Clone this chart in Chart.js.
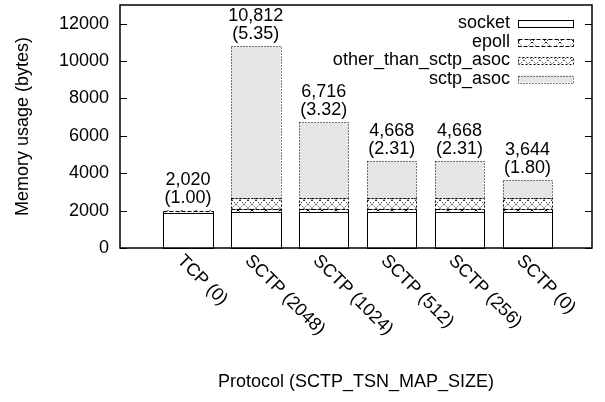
<!DOCTYPE html>
<html lang="en">
<head>
<meta charset="UTF-8">
<title>Memory usage per protocol</title>
<script src="https://cdn.jsdelivr.net/npm/chart.js"></script>
<style>
  body { margin: 0; background: #fff; }
  canvas { display: block; }
</style>
</head>
<body>
<canvas id="memChart" width="605" height="402"></canvas>
<script>
// x categories
const protocols = ["TCP (0)", "SCTP (2048)", "SCTP (1024)", "SCTP (512)", "SCTP (256)", "SCTP (0)"];
// stacked memory components, bytes
const socketBytes = [1860, 1900, 1900, 1900, 1900, 1900];
const epollBytes = [140, 200, 200, 200, 200, 200];
const otherBytes = [20, 560, 560, 560, 560, 560];
const sctpAsocBytes = [0, 8152, 4056, 2008, 2008, 984];
const seriesNames = ["socket", "epoll", "other_than_sctp_asoc", "sctp_asoc"];
const yTicks = [0, 2000, 4000, 6000, 8000, 10000, 12000];

const FONT = "'Liberation Sans', Arial, sans-serif";
const FSIZE = 18;

const totals = protocols.map((_, i) => socketBytes[i] + epollBytes[i] + otherBytes[i] + sctpAsocBytes[i]);

// small tiled fills, a bit like gnuplot's fill patterns
function makePattern(w, h, draw) {
    const c = document.createElement("canvas");
    c.width = w;
    c.height = h;
    const g = c.getContext("2d");
    g.fillStyle = "#fff";
    g.fillRect(0, 0, w, h);
    draw(g, w, h);
    return g.createPattern(c, "repeat");
}

const crossFill = makePattern(14, 14, (g, w, h) => {
    g.strokeStyle = "#000";
    g.lineWidth = 1;
    g.setLineDash([2, 2]);
    g.beginPath();
    g.moveTo(0, 0); g.lineTo(w, h);
    g.moveTo(w, 0); g.lineTo(0, h);
    g.stroke();
});

const denseFill = makePattern(8, 8, (g, w, h) => {
    g.strokeStyle = "#333";
    g.lineWidth = 1;
    g.setLineDash([1.5, 1.5]);
    g.beginPath();
    g.moveTo(0, 0); g.lineTo(w, h);
    g.moveTo(w, 0); g.lineTo(0, h);
    g.stroke();
});

const fills = ["#ffffff", crossFill, denseFill, "#e5e5e5"];
const dashes = [[], [4, 2], [2, 2], [1, 2]];
const values = [socketBytes, epollBytes, otherBytes, sctpAsocBytes];

// outlines, frame, ticks, value labels, rotated categories, legend
const decor = {
    id: "decor",
    afterDatasetsDraw(chart) {
        const { ctx, chartArea: a, scales: { x, y } } = chart;
        ctx.save();
        ctx.strokeStyle = "#000";
        ctx.lineWidth = 1;

        chart.data.datasets.forEach((ds, di) => {
            chart.getDatasetMeta(di).data.forEach(bar => {
                const p = bar.getProps(["x", "y", "base", "width"], true);
                const h = Math.abs(p.base - p.y);
                if (h < 0.5) return;
                const l = Math.round(p.x - p.width / 2) + 0.5;
                const r = Math.round(p.x + p.width / 2) + 0.5;
                const t = Math.round(Math.min(p.y, p.base)) + 0.5;
                const b = Math.round(Math.max(p.y, p.base)) + 0.5;
                ctx.setLineDash(dashes[di]);
                ctx.strokeRect(l, t, r - l, b - t);
            });
        });
        ctx.setLineDash([]);

        // frame
        ctx.lineWidth = 1.5;
        ctx.strokeRect(a.left, a.top, a.right - a.left, a.bottom - a.top);

        // inward y ticks, mirrored
        ctx.lineWidth = 1;
        ctx.beginPath();
        yTicks.forEach(v => {
            const py = Math.round(y.getPixelForValue(v)) + 0.5;
            ctx.moveTo(a.left, py); ctx.lineTo(a.left + 7, py);
            ctx.moveTo(a.right - 7, py); ctx.lineTo(a.right, py);
        });
        ctx.stroke();

        ctx.fillStyle = "#000";
        ctx.font = FSIZE + "px " + FONT;

        // totals and ratio to TCP above each bar
        ctx.textAlign = "center";
        ctx.textBaseline = "middle";
        protocols.forEach((_, i) => {
            const xc = x.getPixelForValue(i);
            const top = y.getPixelForValue(totals[i]);
            ctx.fillText(totals[i].toLocaleString("en-US"), xc, top - 30);
            ctx.fillText("(" + (totals[i] / totals[0]).toFixed(2) + ")", xc, top - 12);
        });

        // category labels, rotated clockwise
        ctx.textAlign = "left";
        protocols.forEach((name, i) => {
            const xc = x.getPixelForValue(i);
            ctx.save();
            ctx.translate(xc - 8, a.bottom + 10);
            ctx.rotate(Math.PI / 4);
            ctx.fillText(name, 0, 0);
            ctx.restore();
        });

        // legend, top right inside the frame
        ctx.textAlign = "right";
        chart.data.datasets.forEach((ds, di) => {
            const ly = a.top + 18.5 + di * 18.5;
            ctx.fillStyle = "#000";
            ctx.fillText(ds.label, a.right - 82, ly);
            ctx.fillStyle = fills[di];
            ctx.fillRect(a.right - 74, ly - 3.5, 55, 7);
            ctx.setLineDash(dashes[di]);
            ctx.strokeRect(a.right - 74 + 0.5, Math.round(ly - 3.5) + 0.5, 55, 7);
            ctx.setLineDash([]);
        });
        ctx.restore();
    }
};

const ctx = document.getElementById("memChart").getContext("2d");

new Chart(ctx, {
    type: "bar",
    data: {
        labels: protocols.map((_, i) => i),
        datasets: seriesNames.map((name, di) => ({
            label: name,
            data: values[di],
            backgroundColor: fills[di],
            borderWidth: 0,
            barPercentage: 0.766,
            categoryPercentage: 1
        }))
    },
    options: {
        responsive: false,
        animation: false,
        layout: { padding: { top: 5, right: 13, bottom: 0, left: 0 } },
        plugins: {
            legend: { display: false },
            tooltip: { enabled: false }
        },
        scales: {
            x: {
                type: "linear",
                stacked: true,
                offset: false,
                min: -1,
                max: 5.95,
                grid: { display: false },
                border: { display: false },
                ticks: { display: false },
                title: {
                    display: true,
                    text: "Protocol (SCTP_TSN_MAP_SIZE)",
                    color: "#000",
                    font: { family: FONT, size: FSIZE },
                    padding: { top: 0, bottom: 9 }
                },
                afterFit(s) {
                    s.height = 154;
                    s.paddingLeft = 0;
                    s.paddingRight = 0;
                }
            },
            y: {
                stacked: true,
                min: 0,
                max: 13000,
                grid: { display: false, drawTicks: false },
                border: { display: false },
                afterBuildTicks(s) {
                    s.ticks = yTicks.map(v => ({ value: v }));
                },
                ticks: {
                    color: "#000",
                    padding: 11,
                    font: { family: FONT, size: FSIZE },
                    callback: v => String(v)
                },
                title: {
                    display: true,
                    text: "Memory usage (bytes)",
                    color: "#000",
                    font: { family: FONT, size: FSIZE },
                    padding: { top: 12, bottom: 0 }
                },
                afterFit(s) {
                    s.width = 120;
                    s.paddingTop = 0;
                    s.paddingBottom = 0;
                }
            }
        }
    },
    plugins: [decor]
});
</script>
</body>
</html>
